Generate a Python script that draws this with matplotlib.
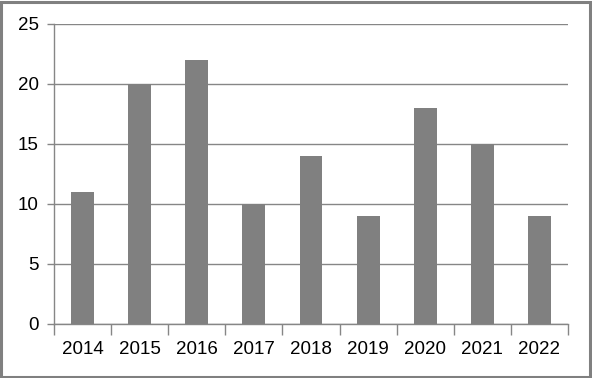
import numpy as np
import matplotlib
matplotlib.use("Agg")
from matplotlib import pyplot as plt
from matplotlib.patches import Rectangle

# data
years = ["2014", "2015", "2016", "2017", "2018", "2019", "2020", "2021", "2022"]
counts = [11, 20, 22, 10, 14, 9, 18, 15, 9]
yticks = [0, 5, 10, 15, 20, 25]

plt.rcParams["font.family"] = ["Liberation Sans", "DejaVu Sans"]
grey = "#868686"

fig = plt.figure(figsize=(5.92, 3.78), dpi=100)
ax = fig.add_axes([54 / 592, 54 / 378, 514 / 592, 300 / 378])

x = np.arange(len(years))
ax.bar(x, counts, width=0.4, color="#808080", zorder=3)

ax.set_xlim(-0.5, len(years) - 0.5)
ax.set_ylim(0, 25)
ax.set_yticks(yticks)
ax.set_xticks(x)
ax.set_xticklabels(years)
ax.set_xticks(np.arange(len(years) + 1) - 0.5, minor=True)
ax.tick_params(axis="x", which="major", length=0, pad=12, labelsize=13.5)
ax.tick_params(axis="x", which="minor", length=8, color=grey, width=1)
ax.tick_params(axis="y", length=5, color=grey, width=1, pad=6, labelsize=13.5)

ax.yaxis.grid(True, color=grey, linewidth=1, zorder=0)
for side in ["top", "right"]:
    ax.spines[side].set_visible(False)
for side in ["left", "bottom"]:
    ax.spines[side].set_color(grey)
    ax.spines[side].set_linewidth(1)

# outer chart border
fig.patches.append(Rectangle((0.002, 0.003), 0.995, 0.993, transform=fig.transFigure,
                             fill=False, edgecolor="#808080", linewidth=2.2))

fig.savefig("out.png", dpi=100)
